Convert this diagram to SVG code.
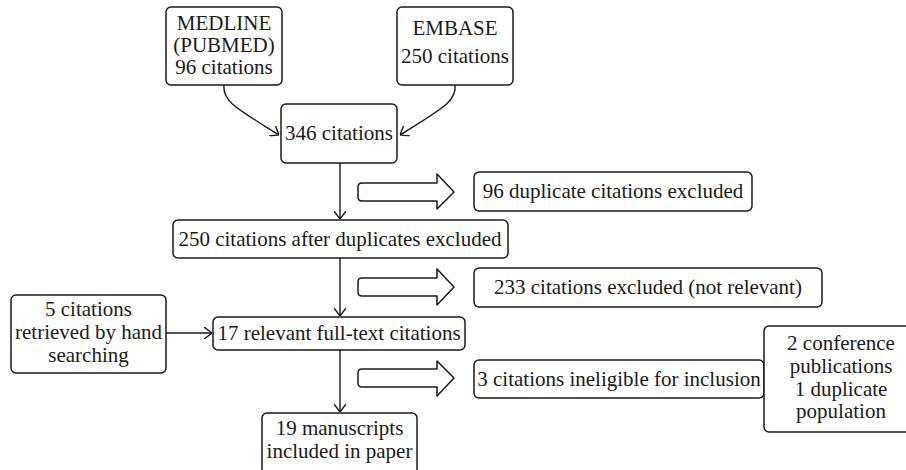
<svg xmlns="http://www.w3.org/2000/svg" width="906" height="470" viewBox="0 0 906 470">
<style>
.box{fill:#fff;stroke:#1a1a1a;stroke-width:1.5}
.t{font-size:21px;fill:#1a1a1a;text-anchor:middle}
.c{fill:none;stroke:#1a1a1a;stroke-width:1.4}
.blk{fill:#fff;stroke:#1a1a1a;stroke-width:1.5;stroke-linejoin:round}
</style>
<defs>
<marker id="ah" viewBox="0 0 8 12" refX="8" refY="6" markerWidth="8" markerHeight="12" markerUnits="userSpaceOnUse" orient="auto">
<path d="M0,0 L8,6 L0,12" fill="none" stroke="#1a1a1a" stroke-width="1.4"/>
</marker>
</defs>
<rect width="906" height="470" fill="#fff"/>
<g id="connectors">
<path class="c" d="M224,85 C222,101 236,108 279,135" marker-end="url(#ah)"/>
<path class="c" d="M455,85 C457,101 443,108 400,135" marker-end="url(#ah)"/>
<path class="c" d="M340,163 L340,219" marker-end="url(#ah)"/>
<path class="c" d="M340,258 L340,316" marker-end="url(#ah)"/>
<path class="c" d="M166,333 L212,333" marker-end="url(#ah)"/>
<path class="c" d="M340,350 L340,412" marker-end="url(#ah)"/>
<path class="blk" d="M362,183 L437,183 L437,174 L454,192 L437,209 L437,201 L362,201 Q358,201 358,197 L358,187 Q358,183 362,183 Z"/>
<path class="blk" d="M362,278 L437,278 L437,269 L454,287 L437,305 L437,296 L362,296 Q358,296 358,292 L358,282 Q358,278 362,278 Z"/>
<path class="blk" d="M362,369 L437,369 L437,361 L454,378 L437,396 L437,387 L362,387 Q358,387 358,383 L358,373 Q358,369 362,369 Z"/>
</g>
<g font-family="Liberation Serif, Times New Roman, DejaVu Serif, serif">
<g id="medline">
<rect class="box" x="166" y="7" width="116" height="78" rx="5"/>
<text class="t" x="224" y="30">MEDLINE</text>
<text class="t" x="224" y="52">(PUBMED)</text>
<text class="t" x="224" y="74">96 citations</text>
</g>
<g id="embase">
<rect class="box" x="397" y="7" width="116" height="78" rx="5"/>
<text class="t" x="455" y="35">EMBASE</text>
<text class="t" x="455" y="63">250 citations</text>
</g>
<g id="n346">
<rect class="box" x="281" y="104" width="116" height="59" rx="5"/>
<text class="t" x="339" y="140">346 citations</text>
</g>
<g id="dup96">
<rect class="box" x="474" y="172" width="278" height="39" rx="5"/>
<text class="t" x="613" y="198">96 duplicate citations excluded</text>
</g>
<g id="n250">
<rect class="box" x="173" y="220" width="335" height="38" rx="5"/>
<text class="t" x="340" y="246">250 citations after duplicates excluded</text>
</g>
<g id="ex233">
<rect class="box" x="474" y="268" width="348" height="39" rx="5"/>
<text class="t" x="648" y="294">233 citations excluded (not relevant)</text>
</g>
<g id="hand5">
<rect class="box" x="11" y="295" width="155" height="78" rx="5"/>
<text class="t" x="88.5" y="316">5 citations</text>
<text class="t" x="88.5" y="339">retrieved by hand</text>
<text class="t" x="88.5" y="362">searching</text>
</g>
<g id="n17">
<rect class="box" x="213" y="317" width="252" height="33" rx="5"/>
<text class="t" x="339" y="340">17 relevant full-text citations</text>
</g>
<g id="inel3">
<rect class="box" x="474" y="360" width="290" height="38" rx="5"/>
<text class="t" x="619" y="386">3 citations ineligible for inclusion</text>
</g>
<g id="note">
<rect class="box" x="764" y="326" width="160" height="106" rx="5"/>
<text class="t" x="841" y="350">2 conference</text>
<text class="t" x="841" y="373">publications</text>
<text class="t" x="841" y="396">1 duplicate</text>
<text class="t" x="841" y="418">population</text>
</g>
<g id="n19">
<rect class="box" x="262" y="413" width="155" height="62" rx="5"/>
<text class="t" x="339.5" y="435">19 manuscripts</text>
<text class="t" x="339.5" y="458">included in paper</text>
</g>
</g>
</svg>
